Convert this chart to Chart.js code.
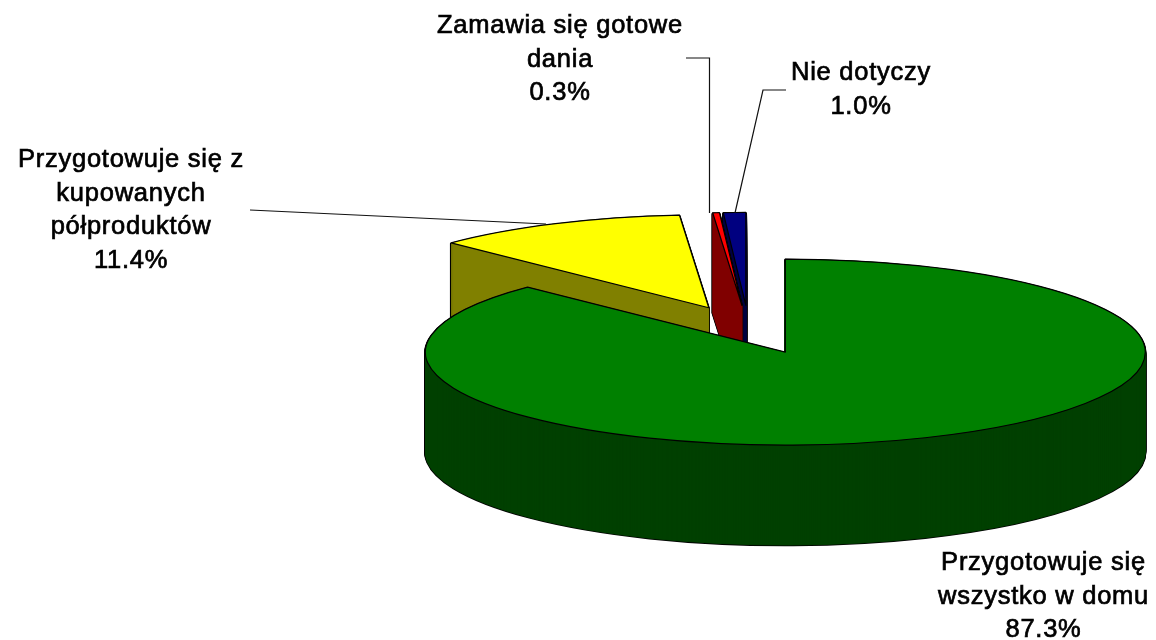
<!DOCTYPE html>
<html lang="pl">
<head>
<meta charset="utf-8">
<style>
html,body{margin:0;padding:0;background:#fff}
#wrap{width:1156px;height:640px;position:relative}
</style>
<script src="https://cdn.jsdelivr.net/npm/chart.js@4"></script>
</head>
<body>
<div id="wrap"><canvas id="c"></canvas></div>
<script>
// Data
const categories = ['Przygotowuje się wszystko w domu','Przygotowuje się z kupowanych półproduktów','Zamawia się gotowe dania','Nie dotyczy'];
const values = [87.3, 11.4, 0.3, 1.0];
const labelLines = [
  ['Przygotowuje się','wszystko w domu'],
  ['Przygotowuje się z','kupowanych','półproduktów'],
  ['Zamawia się gotowe','dania'],
  ['Nie dotyczy']
];
const topColors = ['#008000','#ffff00','#ff0000','#000080'];
const sideColors = ['#004000','#808000','#800000','#000040'];

// Layout / 3D projection
const explodeRatio = 0.261;
const centre = {x: 748.8, y: 329.7};
const radiusX = 360, radiusY = 93, depth = 100;
const paintOrder = [1, 3, 2, 0];
const labelPos = [
  {x: 1043.5, y: 570},
  {x: 131, y: 167},
  {x: 560, y: 33},
  {x: 861, y: 80}
];
const lineHeight = 33.6;
const leaders = [
  [[250,210],[546,224]],
  [[686,58],[709.5,58],[709.5,213]],
  [[786,90],[763,90],[735,213]]
];

function paintArc(ctx, arc, overrides, strokeWidth) {
  const orig = arc.options;
  arc.options = Object.assign(Object.create(orig), overrides);
  const nativeStroke = ctx.stroke;
  ctx.stroke = function () {
    const t = ctx.getTransform();
    ctx.setTransform(1,0,0,1,0,0);
    ctx.lineWidth = strokeWidth;
    ctx.lineJoin = 'round';
    nativeStroke.call(ctx);
    ctx.setTransform(t);
  };
  arc.draw(ctx);
  delete ctx.stroke;
  arc.options = orig;
}

const pie3d = {
  id: 'pie3d',
  beforeDatasetsDraw(chart) {
    const ctx = chart.ctx;
    const arcs = chart.getDatasetMeta(0).data;
    const R = arcs[0].outerRadius;
    const sx = radiusX / R, sy = radiusY / R;
    ctx.save();
    for (const i of paintOrder) {
      const arc = arcs[i];
      const mid = (arc.startAngle + arc.endAngle) / 2;
      const ox = Math.cos(mid) * explodeRatio * radiusX;
      const oy = Math.sin(mid) * explodeRatio * radiusY;
      const place = d => ctx.setTransform(sx,0,0,sy, centre.x + ox - arc.x*sx, centre.y + oy + d - arc.y*sy);
      for (let d = depth; d >= 1; d--) {
        place(d);
        paintArc(ctx, arc, {backgroundColor:'#000', borderColor:'#000', borderWidth:1}, 2.4);
      }
      for (let d = depth; d >= 1; d--) {
        place(d);
        paintArc(ctx, arc, {backgroundColor:sideColors[i], borderColor:sideColors[i], borderWidth:1}, 0.8);
      }
      place(0);
      paintArc(ctx, arc, {backgroundColor:topColors[i], borderColor:'#000', borderWidth:1}, 1.2);
    }
    ctx.restore();
    return false;
  },
  afterDraw(chart) {
    const ctx = chart.ctx;
    ctx.save();
    ctx.strokeStyle = '#111';
    ctx.lineWidth = 1.2;
    for (const l of leaders) {
      ctx.beginPath();
      l.forEach((p,i) => i ? ctx.lineTo(p[0],p[1]) : ctx.moveTo(p[0],p[1]));
      ctx.stroke();
    }
    ctx.font = '25.5px "Liberation Sans", Arial, sans-serif';
    ctx.letterSpacing = '0.75px';
    ctx.textAlign = 'center';
    ctx.textBaseline = 'alphabetic';
    ctx.fillStyle = '#000';
    ctx.strokeStyle = '#000';
    ctx.lineWidth = 0.7;
    labelLines.forEach((lines,i) => {
      const all = lines.concat(values[i].toFixed(1) + '%');
      all.forEach((t,j) => {
        const y = labelPos[i].y + j*lineHeight;
        ctx.fillText(t, labelPos[i].x, y);
        ctx.strokeText(t, labelPos[i].x, y);
      });
    });
    ctx.restore();
  }
};

new Chart(document.getElementById('c'), {
  type: 'pie',
  data: {
    labels: categories,
    datasets: [{
      data: values,
      backgroundColor: topColors,
      borderColor: '#000',
      borderWidth: 1
    }]
  },
  options: {
    responsive: true,
    maintainAspectRatio: false,
    animation: false,
    layout: {padding: 0},
    plugins: {legend: {display: false}, tooltip: {enabled: false}}
  },
  plugins: [pie3d]
});
</script>
</body>
</html>
